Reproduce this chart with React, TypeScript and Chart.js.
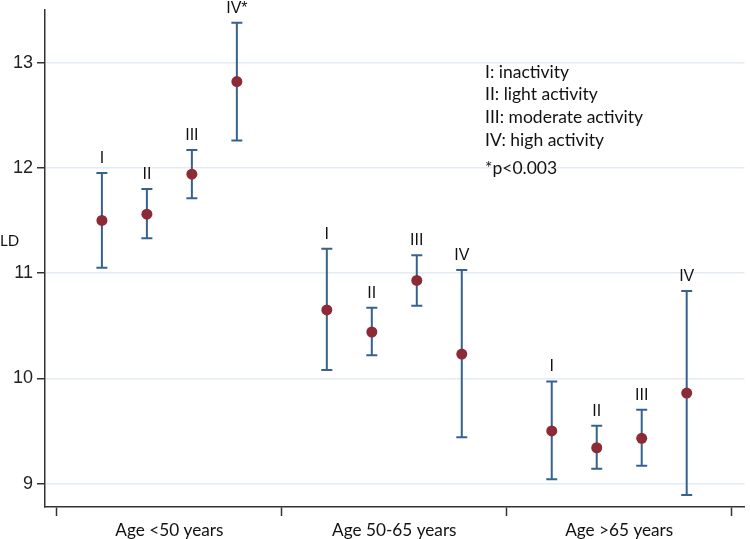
import React, { useEffect, useRef } from "react";
import { Chart, registerables } from "chart.js";

Chart.register(...registerables);

const groups = ["Age <50 years", "Age 50-65 years", "Age >65 years"];
const levelOffsets = [0.2, 0.4, 0.6, 0.8];
const pointLabels = [
  ["I", "II", "III", "IV*"],
  ["I", "II", "III", "IV"],
  ["I", "II", "III", "IV"],
];
const means = [
  [11.5, 11.56, 11.94, 12.82],
  [10.65, 10.44, 10.93, 10.23],
  [9.5, 9.34, 9.43, 9.86],
];
const lowers = [
  [11.05, 11.33, 11.71, 12.26],
  [10.08, 10.22, 10.69, 9.44],
  [9.04, 9.14, 9.17, 8.89],
];
const uppers = [
  [11.95, 11.8, 12.17, 13.38],
  [11.23, 10.67, 11.17, 11.03],
  [9.97, 9.55, 9.7, 10.83],
];
const yTicks = [9, 10, 11, 12, 13];
const legendLines = [
  "I: inactivity",
  "II: light activity",
  "III: moderate activity",
  "IV: high activity",
];
const noteText = "*p<0.003";
const yTitle = "LD";

const MARKER = "#8c2a36";
const BAR = "#35628e";
const AXIS = "#333333";
const GRID = "#e4ecf3";
const LABEL_FONT = "Lato, 'Open Sans', sans-serif";

export default function App() {
  const ref = useRef<HTMLCanvasElement | null>(null);

  useEffect(() => {
    const canvas = ref.current;
    if (!canvas) return;

    const pts: { x: number; y: number }[] = [];
    groups.forEach((_, g) => {
      levelOffsets.forEach((o, k) => {
        pts.push({ x: g + o, y: means[g][k] });
      });
    });

    const errorPlugin = {
      id: "errorBars",
      beforeDatasetsDraw(chart: any) {
        const ctx = chart.ctx;
        const xs = chart.scales.x;
        const ys = chart.scales.y;
        ctx.save();
        ctx.strokeStyle = BAR;
        ctx.lineWidth = 2;
        groups.forEach((_, g) => {
          levelOffsets.forEach((o, k) => {
            const px = xs.getPixelForValue(g + o);
            const top = ys.getPixelForValue(uppers[g][k]);
            const bot = ys.getPixelForValue(lowers[g][k]);
            ctx.beginPath();
            ctx.moveTo(px, top);
            ctx.lineTo(px, bot);
            ctx.moveTo(px - 5.5, top);
            ctx.lineTo(px + 5.5, top);
            ctx.moveTo(px - 5.5, bot);
            ctx.lineTo(px + 5.5, bot);
            ctx.stroke();
          });
        });
        ctx.restore();
      },
      afterDatasetsDraw(chart: any) {
        const ctx = chart.ctx;
        const xs = chart.scales.x;
        const ys = chart.scales.y;
        ctx.save();
        ctx.fillStyle = "#111111";
        ctx.font = "16px 'Liberation Sans', Arial, sans-serif";
        ctx.textAlign = "center";
        ctx.textBaseline = "alphabetic";
        groups.forEach((_, g) => {
          levelOffsets.forEach((o, k) => {
            const px = xs.getPixelForValue(g + o);
            const top = ys.getPixelForValue(uppers[g][k]);
            ctx.fillText(pointLabels[g][k], px, top - 10);
          });
        });
        // legend text
        ctx.textAlign = "left";
        ctx.textBaseline = "middle";
        ctx.font = `17.5px ${LABEL_FONT}`;
        ctx.fillStyle = "#111111";
        legendLines.forEach((t, i) => {
          ctx.fillText(t, 485, 72 + i * 22.7);
        });
        ctx.fillText(noteText, 485, 168.5);
        // y title
        ctx.font = `15px ${LABEL_FONT}`;
        ctx.fillText(yTitle, 0, 241);
        ctx.restore();
      },
    };

    const chart = new Chart(canvas, {
      type: "scatter",
      data: {
        datasets: [
          {
            data: pts,
            backgroundColor: MARKER,
            borderColor: MARKER,
            pointRadius: 5.5,
            pointHoverRadius: 5.5,
            borderWidth: 0,
          },
        ],
      },
      plugins: [errorPlugin],
      options: {
        animation: false,
        responsive: false,
        layout: { padding: { top: 10, right: 0, left: 0, bottom: 0 } },
        plugins: { legend: { display: false }, tooltip: { enabled: false } },
        scales: {
          x: {
            type: "linear",
            min: -0.053,
            max: 3.057,
            afterBuildTicks: (scale: any) => {
              const t: any[] = [];
              for (let i = 0; i <= groups.length; i++) {
                t.push({ value: i });
                if (i < groups.length) t.push({ value: i + 0.5 });
              }
              scale.ticks = t;
            },
            afterFit: (scale: any) => {
              scale.height = 32;
              scale.paddingLeft = 0;
              scale.paddingRight = 0;
            },
            ticks: {
              autoSkip: false,
              maxRotation: 0,
              padding: 4,
              color: "#111111",
              font: { family: LABEL_FONT, size: 17.2 },
              callback: (v: any) => {
                const n = Number(v);
                if (Math.abs(n - Math.round(n)) < 1e-6) return "";
                return groups[Math.floor(n)];
              },
            },
            grid: {
              drawOnChartArea: false,
              tickLength: 9,
              tickWidth: 1.5,
              tickColor: (c: any) => {
                const n = c.tick ? c.tick.value : 0;
                return Math.abs(n - Math.round(n)) < 1e-6 ? AXIS : "rgba(0,0,0,0)";
              },
            },
            border: { color: AXIS, width: 1.5 },
          },
          y: {
            min: 8.777,
            max: 13.5,
            afterBuildTicks: (scale: any) => {
              scale.ticks = yTicks.map((v) => ({ value: v }));
            },
            afterFit: (scale: any) => {
              scale.width = 45;
              scale.paddingTop = 0;
              scale.paddingBottom = 0;
            },
            ticks: {
              padding: 4,
              color: "#222222",
              font: { family: "'Liberation Sans', Arial, sans-serif", size: 18 },
              callback: (v: any) => String(v),
            },
            grid: {
              color: GRID,
              lineWidth: 1.5,
              tickColor: AXIS,
              tickLength: 8,
              tickWidth: 1.5,
            },
            border: { color: AXIS, width: 1.5 },
          },
        },
      },
    } as any);

    return () => chart.destroy();
  }, []);

  return (
    <div style={{ position: "absolute", left: 0, top: 0, width: 750, height: 539, background: "#fff" }}>
      <canvas ref={ref} width={750} height={539} style={{ width: 750, height: 539, display: "block" }} />
    </div>
  );
}
